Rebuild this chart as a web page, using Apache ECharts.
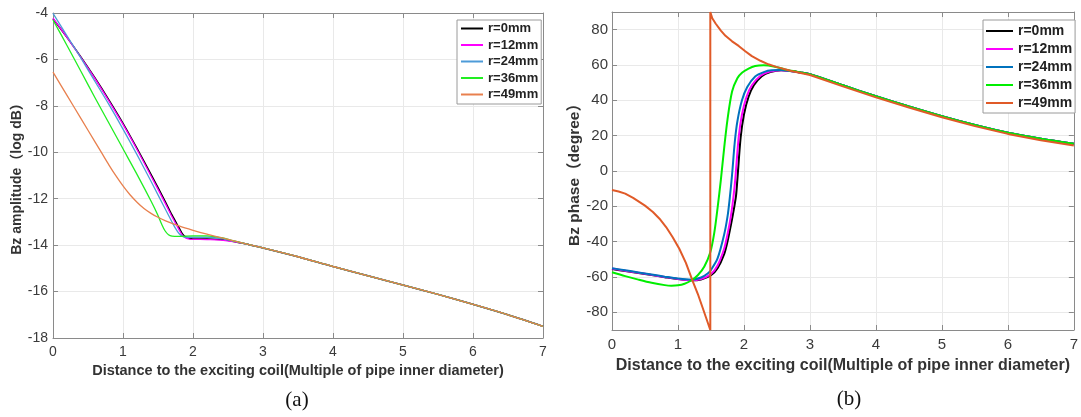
<!DOCTYPE html>
<html>
<head>
<meta charset="utf-8">
<script src="https://cdn.jsdelivr.net/npm/echarts@6/dist/echarts.min.js"></script>
<style>
html,body{margin:0;padding:0;background:#fff;}
#c{width:1081px;height:417px;}
</style>
</head>
<body>
<div id="c"></div>
<script>
// ---------- DATA ----------
const seriesNames = ['r=0mm','r=12mm','r=24mm','r=36mm','r=49mm'];
const xTicks = [0,1,2,3,4,5,6,7];

// (a) amplitude, log dB
const ampTail = [[2.8,-13.98],[3.0,-14.12],[3.5,-14.5],[4.0,-14.92],[4.5,-15.32],[5.0,-15.72],[5.5,-16.12],[6.0,-16.55],[6.5,-17.0],[7.0,-17.5]];
const ampR0 = [[0,-4.25],[0.2,-5.05],[0.4,-5.9],[0.6,-6.8],[0.8,-7.75],[1.0,-8.75],[1.2,-9.83],[1.4,-10.95],[1.6,-12.1],[1.7,-12.7],[1.8,-13.25],[1.85,-13.52],[1.9,-13.66],[1.95,-13.71],[2.0,-13.73],[2.2,-13.73],[2.4,-13.76],[2.6,-13.85]];
const ampR12 = [[0,-4.22],[0.2,-5.05],[0.4,-5.92],[0.6,-6.83],[0.8,-7.8],[1.0,-8.8],[1.2,-9.88],[1.4,-11.02],[1.6,-12.18],[1.7,-12.78],[1.8,-13.33],[1.85,-13.58],[1.9,-13.7],[1.95,-13.74],[2.0,-13.75],[2.2,-13.76],[2.4,-13.78],[2.6,-13.86]];
const ampR24 = [[0,-4.02],[0.2,-4.98],[0.4,-5.95],[0.6,-6.95],[0.8,-7.95],[1.0,-9.0],[1.2,-10.1],[1.4,-11.25],[1.6,-12.42],[1.7,-13.0],[1.75,-13.28],[1.8,-13.5],[1.85,-13.62],[1.9,-13.66],[2.0,-13.66],[2.2,-13.66],[2.4,-13.72],[2.6,-13.84]];
const ampR36 = [[0,-4.3],[0.2,-5.4],[0.4,-6.52],[0.6,-7.65],[0.8,-8.75],[1.0,-9.85],[1.2,-10.95],[1.4,-12.1],[1.5,-12.72],[1.55,-13.08],[1.6,-13.38],[1.65,-13.55],[1.7,-13.61],[1.8,-13.62],[2.0,-13.6],[2.2,-13.6],[2.4,-13.68],[2.6,-13.83]];
const ampR49 = [[0,-6.55],[0.2,-7.55],[0.4,-8.55],[0.6,-9.55],[0.7,-10.05],[0.8,-10.55],[0.9,-11.02],[1.0,-11.45],[1.1,-11.83],[1.2,-12.15],[1.3,-12.42],[1.4,-12.63],[1.5,-12.8],[1.6,-12.94],[1.8,-13.17],[2.0,-13.36],[2.2,-13.53],[2.4,-13.68],[2.6,-13.83]];
const ampYTicks = [-18,-16,-14,-12,-10,-8,-6,-4];

// (b) phase, degree
const phTail = [[3.0,54.8],[3.5,48.5],[4.0,42.3],[4.5,36.5],[5.0,31.0],[5.5,26.0],[6.0,21.6],[6.5,18.2],[7.0,15.4]];
const phR0 = [[0,-55.5],[0.2,-56.6],[0.4,-57.7],[0.6,-58.9],[0.8,-60.1],[1.0,-61.2],[1.2,-61.9],[1.35,-61.4],[1.5,-59],[1.6,-55],[1.7,-47],[1.75,-40],[1.8,-31],[1.85,-21],[1.88,-14],[1.9,-5],[1.95,19],[2.0,32],[2.07,42],[2.15,48.5],[2.27,53.7],[2.4,56],[2.57,57],[2.7,56.6],[2.85,55.8]];
const phR12 = [[0,-55.2],[0.2,-56.4],[0.4,-57.6],[0.6,-58.8],[0.8,-60],[1.0,-61.1],[1.2,-61.8],[1.35,-61.1],[1.5,-58.3],[1.6,-53.5],[1.7,-44],[1.75,-36],[1.8,-26],[1.84,-15],[1.87,-4],[1.92,19],[1.97,32],[2.04,42],[2.12,48.5],[2.25,53.9],[2.38,56.1],[2.55,57],[2.7,56.6],[2.85,55.8]];
const phR24 = [[0,-55],[0.2,-56.2],[0.4,-57.4],[0.6,-58.6],[0.8,-59.8],[1.0,-60.9],[1.2,-61.5],[1.35,-60.3],[1.45,-58],[1.5,-56],[1.6,-49.5],[1.7,-36],[1.75,-26],[1.78,-17],[1.82,-2],[1.86,16],[1.9,28],[1.97,40],[2.05,47.5],[2.17,53.5],[2.3,56],[2.42,57],[2.55,57.1],[2.7,56.6],[2.85,55.8]];
const phR36 = [[0,-57.3],[0.2,-59.5],[0.4,-61.5],[0.6,-63.3],[0.8,-64.6],[0.9,-64.9],[1.0,-64.7],[1.1,-63.8],[1.2,-62],[1.3,-59],[1.4,-54],[1.49,-46],[1.55,-35],[1.6,-21],[1.65,-5],[1.7,13],[1.75,29],[1.82,45],[1.9,52.5],[1.97,55.6],[2.07,58],[2.17,59.4],[2.3,59.8],[2.45,59.2],[2.62,57.5],[2.8,56.2]];
const phR49 = [[0,-10.8],[0.1,-11.6],[0.2,-12.8],[0.32,-15.2],[0.5,-19.6],[0.62,-23.2],[0.72,-27],[0.82,-31.7],[0.92,-37.5],[1.02,-44],[1.12,-52],[1.22,-62],[1.3,-69.5],[1.37,-77],[1.43,-83.5],[1.49,-90],[1.49,90],[1.52,86.5],[1.57,83.5],[1.65,79.5],[1.72,76.5],[1.82,73.4],[1.92,70.8],[2.02,67.8],[2.12,65],[2.25,62.4],[2.37,60.4],[2.5,58.8],[2.72,56.6],[3.0,54.3],[3.5,47.9],[4.0,41.7],[4.5,35.9],[5.0,30.4],[5.5,25.4],[6.0,21.0],[6.5,17.4],[7.0,14.4]];
const phYTicks = [-80,-60,-40,-20,0,20,40,60,80];

// ---------- STYLE ----------
const FONT = '"Liberation Sans", Arial, "Noto Sans CJK SC", sans-serif';
const colorsA = ['#000000','#ff00ff','#4d9bd8','#22ee22','#e8804e'];
const colorsB = ['#000000','#ff00ff','#0072bd','#00ee00','#e05a28'];
const AXC = '#8a8a8a';
const GRIDC = '#e9e9e9';

function xAx(grid, top, gap, fs, nfs, margin){
  return {
    gridIndex: grid, type:'value', min:xTicks[0], max:xTicks[xTicks.length-1], interval:1, position: top?'top':'bottom',
    axisLine:{show:true, onZero:false, lineStyle:{color:AXC, width:1}},
    axisTick:{show:true, inside:true, length:5, lineStyle:{color:AXC}},
    axisLabel:{show:!top, color:'#3a3a3a', fontSize:fs, fontFamily:FONT, margin:margin},
    splitLine:{show:!top, lineStyle:{color:GRIDC, width:1}},
    name: top?'':'Distance to the exciting coil(Multiple of pipe inner diameter)',
    nameLocation:'middle', nameGap:gap,
    nameTextStyle:{fontWeight:'bold', fontSize:nfs, color:'#333', fontFamily:FONT}
  };
}

const option = {
  animation:false,
  backgroundColor:'#fff',
  grid:[
    {left:53, top:13, width:490, height:325},
    {left:612, top:12, width:467, height:318}
  ],
  xAxis:[ xAx(0,false,25,14,14.5,7), xAx(0,true,0,14,14,7), xAx(1,false,27,15,16,7.5), xAx(1,true,0,15,16,7) ],
  yAxis:[
    {gridIndex:0, type:'value', min:ampYTicks[0], max:ampYTicks[ampYTicks.length-1], interval:2,
     axisLine:{show:true, onZero:false, lineStyle:{color:AXC}},
     axisTick:{show:true, inside:true, length:5, lineStyle:{color:AXC}},
     axisLabel:{color:'#3a3a3a', fontSize:14, fontFamily:FONT, margin:5},
     splitLine:{show:true, lineStyle:{color:GRIDC}},
     name:'Bz amplitude（log dB）', nameLocation:'middle', nameGap:28,
     nameTextStyle:{fontWeight:'bold', fontSize:14, color:'#333', fontFamily:FONT}},
    {gridIndex:0, type:'value', min:-18, max:-4, interval:2, position:'right',
     axisLine:{show:true, onZero:false, lineStyle:{color:AXC}},
     axisTick:{show:true, inside:true, length:5, lineStyle:{color:AXC}},
     axisLabel:{show:false}, splitLine:{show:false}},
    {gridIndex:1, type:'value', min:-90, max:90, splitNumber:9,
     axisLine:{show:true, onZero:false, lineStyle:{color:AXC}},
     axisTick:{show:true, inside:true, length:5, lineStyle:{color:AXC}},
     axisLabel:{color:'#3a3a3a', fontSize:15, fontFamily:FONT, margin:4, showMinLabel:false, showMaxLabel:false,
       formatter: v => (phYTicks.indexOf(v) >= 0 ? String(v) : '')},
     splitLine:{show:true, lineStyle:{color:GRIDC}},
     name:'Bz phase（degree）', nameLocation:'middle', nameGap:26,
     nameTextStyle:{fontWeight:'bold', fontSize:15.5, color:'#333', fontFamily:FONT}},
    {gridIndex:1, type:'value', min:-90, max:90, splitNumber:9, position:'right',
     axisLine:{show:true, onZero:false, lineStyle:{color:AXC}},
     axisTick:{show:true, inside:true, length:5, lineStyle:{color:AXC}},
     axisLabel:{show:false}, splitLine:{show:false}}
  ],
  legend:[
    {data:seriesNames.map(n=>({name:n})), orient:'vertical', left:457, top:20,
     itemWidth:22, itemHeight:2, itemGap:3.5, icon:'rect',
     padding:[2,3,3,4], borderColor:'#9a9a9a', borderWidth:1, backgroundColor:'#fff',
     textStyle:{fontSize:13, fontWeight:'bold', color:'#222', fontFamily:FONT, lineHeight:13},
     selectedMode:false},
    {data:seriesNames.map(n=>({name:n+' '})), orient:'vertical', left:983, top:20,
     itemWidth:27, itemHeight:2, itemGap:4, icon:'rect',
     padding:[4,3,3,3], borderColor:'#9a9a9a', borderWidth:1, backgroundColor:'#fff',
     textStyle:{fontSize:14, fontWeight:'bold', color:'#222', fontFamily:FONT, lineHeight:14},
     formatter: n => n.trim(),
     selectedMode:false}
  ],
  graphic:[
    {type:'text', style:{text:'(a)', x:297, y:400, font:'21px "Liberation Serif", "DejaVu Serif", serif', fill:'#111', align:'center', verticalAlign:'middle'}},
    {type:'text', style:{text:'(b)', x:849, y:399, font:'21px "Liberation Serif", "DejaVu Serif", serif', fill:'#111', align:'center', verticalAlign:'middle'}}
  ],
  series:[]
};

const ampData = [ampR0.concat(ampTail), ampR12.concat(ampTail), ampR24.concat(ampTail), ampR36.concat(ampTail), ampR49.concat(ampTail)];
const phData = [phR0.concat(phTail), phR12.concat(phTail), phR24.concat(phTail), phR36.concat(phTail), phR49];

seriesNames.forEach((n,i)=>{
  option.series.push({name:n, type:'line', xAxisIndex:0, yAxisIndex:0, data:ampData[i],
    showSymbol:false, symbol:'none', smooth:0.3, color:colorsA[i],
    lineStyle:{width: i===0?1.5:1.3, color:colorsA[i]}, z:2+i});
});
seriesNames.forEach((n,i)=>{
  option.series.push({name:n+' ', type:'line', xAxisIndex:2, yAxisIndex:2, data:phData[i],
    showSymbol:false, symbol:'none', smooth: i===4 ? false : 0.3, color:colorsB[i],
    lineStyle:{width:2, color:colorsB[i]}, z:2+i});
});

const chart = echarts.init(document.getElementById('c'), null, {renderer:'canvas'});
chart.setOption(option);
</script>
</body>
</html>
